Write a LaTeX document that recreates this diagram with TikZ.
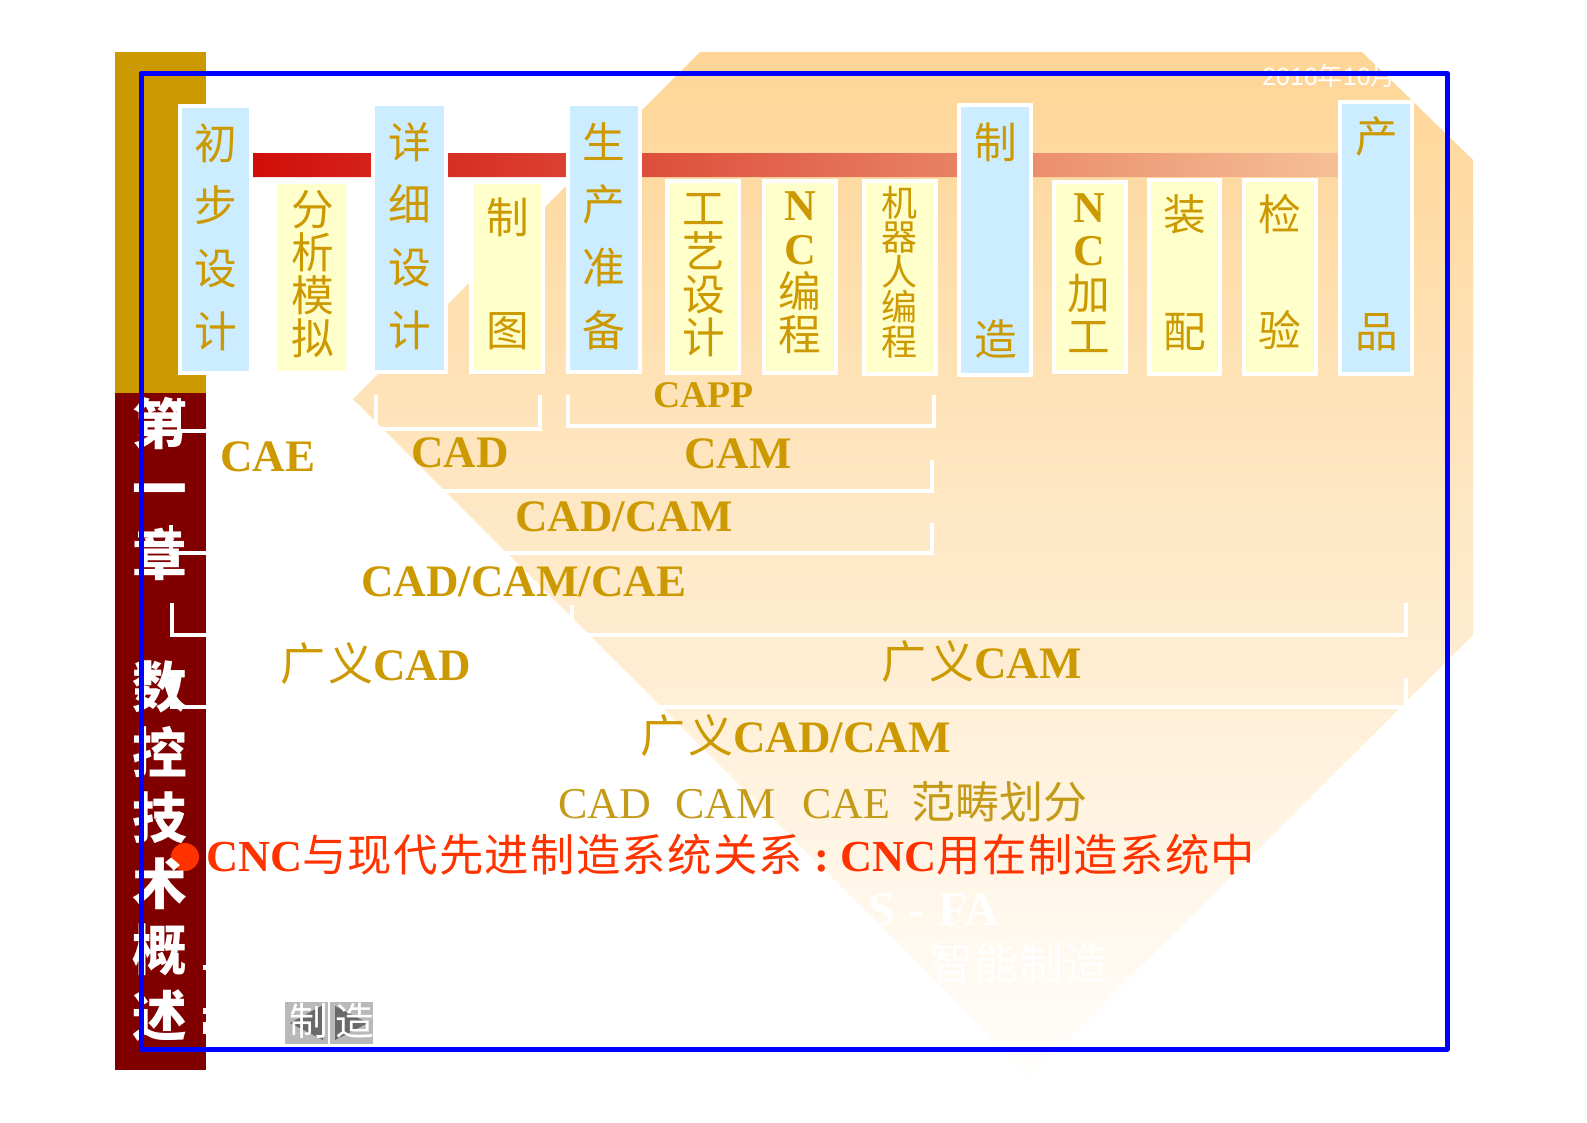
\documentclass[tikz,border=0pt]{standalone}
\usepackage{fontspec}
\usetikzlibrary{calc}
\setmainfont{Liberation Serif}
\newfontfamily\lsans{Liberation Sans}
\newfontfamily\cj{Noto Sans CJK SC}
\newfontfamily\cjs[LetterSpace=7]{Noto Sans CJK SC}
\newfontfamily\cjr[LetterSpace=3]{Noto Sans CJK SC}
\definecolor{gold}{RGB}{204,153,0}
\definecolor{goldb}{RGB}{196,155,25}
\definecolor{maroon}{RGB}{128,0,0}
\definecolor{skyb}{RGB}{204,236,255}
\definecolor{paley}{RGB}{255,255,204}
\definecolor{redt}{RGB}{255,51,0}
\definecolor{btn}{RGB}{185,185,185}
\definecolor{btnd}{RGB}{105,105,105}
\definecolor{peachtop}{RGB}{254,213,150}
\definecolor{peachmid}{RGB}{254,232,205}
\definecolor{peachbot}{RGB}{255,254,252}
\definecolor{barl}{RGB}{208,14,10}
\definecolor{barm}{RGB}{228,125,90}
\definecolor{barr}{RGB}{245,192,150}
\definecolor{frameb}{RGB}{0,0,255}
\lineskiplimit=-100pt
\tikzset{
  boxb/.style={draw=white,line width=3pt,fill=skyb,inner sep=0pt},
  boxy/.style={draw=white,line width=3pt,fill=paley,inner sep=0pt},
  vt/.style 2 args={inner sep=0pt,align=center,text=gold,font={\cj\fontsize{#1}{#2}\selectfont}},
  lab/.style={anchor=base west,inner sep=0pt,text=gold,font={\fontsize{33.75}{34}\selectfont\bfseries}},
  wl/.style={draw=white,line width=3pt,line cap=butt,line join=miter},
}
\newcommand\pbox[6]{\path let \n1={(#3+#5)/2}, \n2={(#4+#6)/2}, \n3={(#5-#3+4)*0.75}, \n4={(#6-#4+4)*0.75} in
  node[#2,minimum width=\n3 pt,minimum height=\n4 pt] (#1) at (\n1,\n2) {};}
\newcommand\latinline[1]{{\rmfamily\bfseries\fontsize{33}{32.5}\selectfont #1}}
\begin{document}
\begin{tikzpicture}[x=0.75pt,y=-0.75pt]
\useasboundingbox (0,0) rectangle (1587,1122);
\fill[white] (0,0) rectangle (1587,1122);
% octagon background
\shade[top color=peachtop,middle color=peachmid,bottom color=peachbot]
  (700,52) -- (1362,52) -- (1473,160) -- (1473,635) -- (1031,1076) -- (353,399) -- cycle;
% sidebar
\fill[gold] (115,52) rectangle (206,393);
\fill[maroon] (115,393) rectangle (206,1070);
\fill[white] (203,965) rectangle (206,970);
\fill[white] (203,1008) rectangle (206,1014);
\fill[white] (203,1022) rectangle (206,1034);
% process bar
\shade[left color=barl,middle color=barm,right color=barr]
  (253,153) rectangle (372,177) (448,153) rectangle (566,177)
  (642,153) rectangle (957,177) (1033,153) rectangle (1338,177);
% boxes
\pbox{b1}{boxb}{182}{108}{249}{371}
\pbox{y1}{boxy}{278}{184}{346}{371}
\pbox{b2}{boxb}{375}{106}{444}{370}
\pbox{y2}{boxy}{473}{184}{541}{370}
\pbox{b3}{boxb}{570}{106}{638}{370}
\pbox{y3}{boxy}{669}{183}{737}{371}
\pbox{y4}{boxy}{766}{183}{834}{371}
\pbox{y5}{boxy}{866}{183}{934}{372}
\pbox{b4}{boxb}{961}{107}{1029}{373}
\pbox{y6}{boxy}{1056}{184}{1124}{370}
\pbox{y7}{boxy}{1151}{182}{1218}{372}
\pbox{y8}{boxy}{1246}{182}{1314}{372}
\pbox{b5}{boxb}{1342}{104}{1410}{372}
% box texts
\node[vt={32}{47}] (t1) at (216,237) {初\\步\\设\\计};
\node[vt={32}{32.2}] (t2) at (313,274) {分\\析\\模\\拟};
\node[vt={32}{47}] (t3) at (410,236) {详\\细\\设\\计};
\node[vt={32}{84.75}] (t4) at (508,274) {制\\图};
\node[vt={32}{47}] (t5) at (604,236) {生\\产\\准\\备};
\node[vt={32}{32.4}] (t6) at (704,275) {工\\艺\\设\\计};
\node[vt={32}{32.5}] (t7) at (800,273) {\latinline{N}\\\latinline{C}\\编\\程};
\node[vt={27}{26.1}] (t8) at (899,272) {机\\器\\人\\编\\程};
\node[vt={32}{147.75}] (t9) at (996,241) {制\\造};
\node[vt={32}{32.5}] (t10) at (1089,273) {\latinline{N}\\\latinline{C}\\加\\工};
\node[vt={32}{87.75}] (t11) at (1185,273) {装\\配};
\node[vt={32}{87}] (t12) at (1280,272) {检\\验};
\node[vt={32}{146.25}] (t13) at (1377,234) {产\\品};
% brackets
\draw[wl] (376,395) -- (376,429) -- (540,429) -- (540,395);
\draw[wl] (568,395) -- (568,426) -- (934,426) -- (934,395);
\draw[wl] (179,398) -- (179,431) -- (350,431);
\draw[wl] (440,491) -- (932,491) -- (932,460);
\draw[wl] (171,525) -- (171,553) -- (932,553) -- (932,523);
\draw[wl] (172,603) -- (172,635) -- (560,635);
\draw[wl] (572,605) -- (572,635) -- (1406,635) -- (1406,603);
\draw[wl] (172,675) -- (172,707) -- (1406,707) -- (1406,678);
% labels
\node[lab] (cae) at (220,471) {CAE};
\node[lab] (cad) at (411,467) {CAD};
\node[lab,font={\fontsize{28.25}{30}\selectfont\bfseries}] (capp) at (653,407) {CAPP};
\node[lab] (cam) at (684,468) {CAM};
\node[lab] (cadcam) at (515,531) {CAD/CAM};
\node[lab] (cadcamcae) at (361,596) {CAD/CAM/CAE};
\node[lab] (gcad) at (280,680) {{\mdseries\cjs 广义}CAD};
\node[lab] (gcam) at (881,678) {{\mdseries\cjs 广义}CAM};
\node[lab] (gcc) at (640,752) {{\mdseries\cjs 广义}CAD/CAM};
\node[lab,text=goldb,font={\fontsize{33}{33}\selectfont}] (cap) at (558,818)
  {CAD\hspace{18pt}CAM\hspace{20pt}CAE\hspace{16pt}{\cj 范畴划分}};
% red line
\node[circle,fill=redt,inner sep=0pt,minimum size=21pt] (dot) at (185,857) {};
\node[lab,text=redt,font={\fontsize{33.25}{34}\selectfont\bfseries}] (red) at (206,871)
  {CNC{\mdseries\cjr 与现代先进制造系统关系}\hspace{8.5pt}:\hspace{8.5pt}CNC{\mdseries\cjr 用在制造系统中}};
% faint white texts
\node[lab,text=white,font={\lsans\fontsize{18.75}{20}\selectfont}] (date) at (1262,85) {2016{\cj 年}10{\cj 月}};
\node[inner sep=0pt,anchor=base east,text=white,font={\fontsize{36}{36}\selectfont\bfseries}] (fa) at (999,925) {S\hspace{10pt}-\hspace{10pt}FA};
\node[inner sep=0pt,text=white,font={\cjr\fontsize{33}{33}\selectfont}] (zn) at (1019,963) {智能制造};
% buttons
\fill[btn] (285,1002) rectangle (328,1044);
\fill[btn] (330,1002) rectangle (373,1044);
\fill[btnd] (290,1023) -- (323,1005) -- (323,1040) -- cycle;
\fill[btnd] (335,1006) -- (335,1040) -- (368,1023) -- cycle;
\node[inner sep=0pt,text=white,font={\cj\fontsize{29}{30}\selectfont}] (zz) at (332,1021) {制\hspace{6pt}造};
% sidebar text
\node[inner sep=0pt,align=center,text=white,font={\cj\bfseries\fontsize{41}{49.35}\selectfont}] (side) at (160,719)
  {第\\一\\章\\ \\数\\控\\技\\术\\概\\述};
% blue frame
\draw[draw=frameb,line width=3.75pt,line join=round] (141,73) rectangle (1447,1049);
\end{tikzpicture}
\end{document}
